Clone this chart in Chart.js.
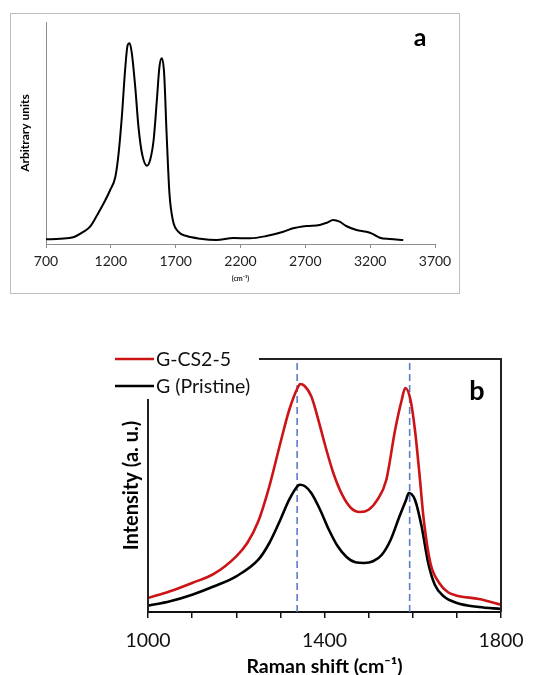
<!DOCTYPE html>
<html><head><meta charset="utf-8">
<script src="https://cdn.jsdelivr.net/npm/chart.js@4.4.1/dist/chart.umd.min.js"></script>
<style>
html,body{margin:0;padding:0;background:#fff;width:541px;height:675px;overflow:hidden;}
#boxA{position:absolute;left:10px;top:13px;width:448px;height:279px;border:1px solid #bdbdbd;}
#wrapA{position:absolute;left:0;top:0;width:448px;height:279px;}
#wrapB{position:absolute;left:0;top:300px;width:541px;height:375px;}
</style></head>
<body>
<div id="boxA"><div id="wrapA"><canvas id="chartA" width="448" height="279"></canvas></div></div>
<div id="wrapB"><canvas id="chartB" width="541" height="375"></canvas></div>
<script>
// ---- Panel a data ----
const shiftA = [700,810,910,990,1040,1095,1145,1195,1235,1260,1285,1310,1330,1345,1362,1388,1413,1440,1478,1503,1530,1555,1575,1593,1611,1630,1652,1678,1720,1785,1890,2015,2145,2275,2400,2530,2605,2710,2810,2865,2915,2965,3015,3095,3170,3210,3275,3350,3455];
const intensityA = [4.7,5.3,6.7,12.3,17.3,29,40.7,54,67.3,90.7,127.3,174,199,200.7,190.7,157.3,117.3,90.7,78.3,84,104,144,177.3,185.7,170.7,110.7,50.7,24,12.3,8,5.3,4,6,5.7,8,12.3,15.7,18,19,21.3,24,22.3,18,14,12.3,10.7,6.3,5,4];
const ticksA = [700,1200,1700,2200,2700,3200,3700];

// ---- Panel b data ----
const shiftRed = [1000,1050,1100,1150,1200,1225,1250,1275,1300,1320,1340,1345,1355,1370,1390,1400,1420,1440,1460,1480,1500,1520,1540,1560,1575,1583,1595,1605,1615,1625,1640,1660,1680,1700,1750,1800];
const intensityRed = [14,20.7,29,38.3,55.7,69,90.7,125.7,169,202,225,228,226,215.7,185.7,169,139,117.3,104,100,102.3,112.3,132,182,212,224,212,182,139,92,49,29,19.7,16.3,13,7.3];
const shiftBlack = [1000,1050,1100,1150,1200,1250,1275,1300,1320,1340,1345,1355,1370,1390,1410,1430,1450,1470,1490,1510,1530,1550,1570,1585,1591,1605,1620,1635,1650,1670,1700,1750,1800];
const intensityBlack = [6.3,10.7,17.3,25.7,35.7,52.3,69,92.3,112.3,126.3,127.3,126,119,102.3,82.3,65.7,55,49.7,49,50.7,57.3,72.3,95.7,112.3,119,112.3,85.7,49,27.3,15.7,9,5,3];
const seriesNames = ['G-CS2-5','G (Pristine)'];
const peakLines = [1338,1593];
const yMaxB = 253;

const FONT = 'Lato, "Open Sans", sans-serif';
Chart.defaults.font.family = FONT;
Chart.defaults.animation = false;

const toXY = (xs, ys) => xs.map((x,i)=>({x, y: ys[i]}));

// ---- Chart a ----
const labelAPlugin = {
  id:'labelA',
  afterDraw(chart){
    const c = chart.ctx;
    c.save();
    c.font = 'bold 25px ' + FONT;
    c.fillStyle = '#000';
    c.textAlign = 'center';
    c.textBaseline = 'middle';
    c.fillText('a', 409, 24);
    c.restore();
  }
};

new Chart(document.getElementById('chartA'), {
  type:'line',
  data:{datasets:[{
    label:'Spectrum',
    data: toXY(shiftA, intensityA),
    borderColor:'#000', borderWidth:2, pointRadius:0,
    cubicInterpolationMode:'monotone', fill:false
  }]},
  options:{
    responsive:false, maintainAspectRatio:false,
    layout:{padding:{left:3,right:24,top:8,bottom:0}},
    plugins:{legend:{display:false},tooltip:{enabled:false}},
    scales:{
      x:{
        type:'linear', min:700, max:3700,
        afterBuildTicks(s){ s.ticks = ticksA.map(v=>({value:v})); },
        border:{display:true,color:'#8c8c8c',width:1},
        grid:{display:true,drawOnChartArea:false,drawTicks:true,tickLength:4,color:'#8c8c8c'},
        ticks:{padding:5,font:{size:14},color:'#222',maxRotation:0,autoSkip:false,
          callback:(v)=>String(v)},
        title:{display:true,text:'(cm⁻¹)',color:'#222',font:{size:7,weight:'bold'},padding:{top:0,bottom:10}},
        afterFit(s){ s.height = 49; }
      },
      y:{
        min:0, max:222,
        ticks:{display:false},
        grid:{display:false},
        border:{display:true,color:'#8c8c8c',width:1},
        title:{display:true,text:'Arbitrary units',color:'#000',font:{size:12,weight:'bold'},padding:{top:4,bottom:0}},
        afterFit(s){ s.width = 32; }
      }
    }
  },
  plugins:[labelAPlugin]
});

// ---- Chart b ----
const frameBPlugin = {
  id:'frameB',
  afterDatasetsDraw(chart){
    const c = chart.ctx, a = chart.chartArea;
    c.save();
    c.strokeStyle = '#222';
    c.lineWidth = 2;
    c.beginPath();
    c.moveTo(a.left, 99); c.lineTo(a.left, a.bottom);
    c.moveTo(259, a.top); c.lineTo(a.right, a.top); c.lineTo(a.right, a.bottom);
    c.stroke();
    // legend
    const ds = chart.data.datasets;
    c.font = '19.5px ' + FONT;
    c.textBaseline = 'middle';
    c.textAlign = 'left';
    [0,1].forEach((i)=>{
      const y = 59 + i*27;
      c.strokeStyle = ds[i].borderColor;
      c.lineWidth = 2.5;
      c.beginPath(); c.moveTo(115,y); c.lineTo(154,y); c.stroke();
      c.fillStyle = '#111';
      c.fillText(ds[i].label, 156, y+1);
    });
    c.font = 'bold 27px ' + FONT;
    c.textAlign = 'center';
    c.fillStyle = '#000';
    c.fillText('b', 477, 91);
    c.restore();
  }
};

const dashSets = peakLines.map(x=>({
  label:'peak '+x,
  data:[{x, y:0},{x, y:yMaxB}],
  borderColor:'#5b7cc6', borderWidth:1.6, borderDash:[7,4], pointRadius:0, fill:false
}));

new Chart(document.getElementById('chartB'), {
  type:'line',
  data:{datasets:[
    {label:seriesNames[0], data:toXY(shiftRed,intensityRed), borderColor:'#cc1417', borderWidth:2.6, pointRadius:0, cubicInterpolationMode:'monotone', fill:false},
    {label:seriesNames[1], data:toXY(shiftBlack,intensityBlack), borderColor:'#000', borderWidth:2.6, pointRadius:0, cubicInterpolationMode:'monotone', fill:false},
    ...dashSets
  ]},
  options:{
    responsive:false, maintainAspectRatio:false,
    layout:{padding:{left:116,right:40,top:59,bottom:0}},
    plugins:{legend:{display:false},tooltip:{enabled:false}},
    scales:{
      x:{
        type:'linear', min:1000, max:1800,
        ticks:{stepSize:100, autoSkip:false, maxRotation:0, padding:11, font:{size:19.5}, color:'#111',
          callback:(v)=> ((v-1000)%400===0 ? String(v) : '')},
        border:{display:true,color:'#111',width:2},
        grid:{display:true,drawOnChartArea:false,drawTicks:true,tickLength:6,color:'#111',lineWidth:1.5},
        title:{display:true,text:'Raman shift (cm⁻¹)',color:'#000',font:{size:19.5,weight:'bold',lineHeight:1},padding:{top:0,bottom:-1}},
        afterFit(s){ s.height = 63; }
      },
      y:{
        min:0, max:yMaxB,
        ticks:{display:false},
        grid:{display:false},
        border:{display:false},
        title:{display:true,text:'Intensity (a. u.)',color:'#000',font:{size:20,weight:'bold'},padding:{top:4,bottom:0}},
        afterFit(s){ s.width = 32; }
      }
    }
  },
  plugins:[frameBPlugin]
});
</script>
</body></html>
